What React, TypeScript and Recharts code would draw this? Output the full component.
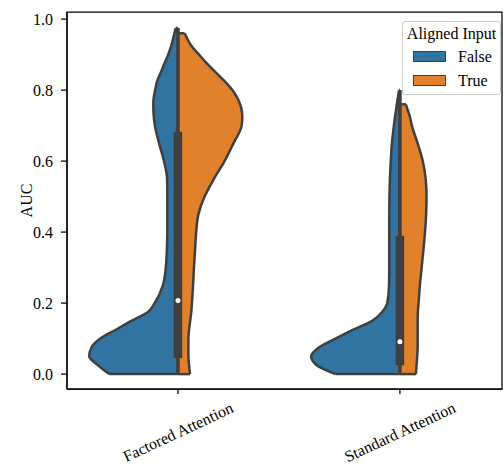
import {
  Area,
  ComposedChart,
  Legend,
  ReferenceArea,
  ReferenceDot,
  ReferenceLine,
  XAxis,
  YAxis,
} from "recharts";

const SERIF = '"Liberation Serif", "DejaVu Serif", serif';
const BLUE = "#3274a1";
const ORANGE = "#e1812c";
const EDGE = "#3f3f3f";
const FONT_SIZE = 16;

const CATEGORIES = ["Factored Attention", "Standard Attention"];
const GROUPS = ["False", "True"];

const AUC_LEVELS = [
  0, 0.025, 0.05, 0.075, 0.1, 0.125, 0.15, 0.175, 0.2, 0.25, 0.3, 0.35, 0.4, 0.45, 0.5, 0.55,
  0.6, 0.65, 0.7, 0.725, 0.75, 0.76, 0.775, 0.8, 0.825, 0.85, 0.875, 0.9, 0.925, 0.95, 0.96,
  0.975,
];

// half-widths (in category units), null above the top of each half
const FACTORED_FALSE = [
  0.31, 0.36, 0.4, 0.39, 0.35, 0.28, 0.21, 0.135, 0.105, 0.068, 0.055, 0.05, 0.048, 0.048,
  0.048, 0.049, 0.063, 0.085, 0.104, 0.109, 0.111, 0.111, 0.11, 0.103, 0.094, 0.077, 0.061,
  0.044, 0.03, 0.02, 0.016, 0.01,
];
const FACTORED_TRUE = [
  0.054, 0.05, 0.047, 0.047, 0.047, 0.05, 0.055, 0.06, 0.063, 0.068, 0.072, 0.077, 0.082, 0.092,
  0.12, 0.162, 0.21, 0.25, 0.287, 0.29, 0.285, 0.28, 0.27, 0.245, 0.21, 0.17, 0.13, 0.095, 0.06,
  0.038, 0.03, null,
];
const STANDARD_FALSE = [
  0.29, 0.375, 0.4, 0.365, 0.29, 0.21, 0.125, 0.08, 0.057, 0.049, 0.048, 0.048, 0.048, 0.048,
  0.047, 0.045, 0.041, 0.036, 0.027, 0.022, 0.016, 0.014, 0.01, 0.004, null, null, null, null,
  null, null, null, null,
];
const STANDARD_TRUE = [
  0.072, 0.075, 0.078, 0.08, 0.08, 0.08, 0.08, 0.081, 0.084, 0.09, 0.098, 0.106, 0.113, 0.118,
  0.12, 0.116, 0.103, 0.08, 0.054, 0.045, 0.032, 0.027, null, null, null, null, null, null, null,
  null, null, null,
];

// inner box plot per category
const WHISKER_LOW = [0, 0];
const WHISKER_HIGH = [0.975, 0.8];
const Q1 = [0.045, 0.025];
const Q3 = [0.683, 0.39];
const MEDIAN = [0.207, 0.091];

const X_DOMAIN: [number, number] = [-0.5, 1.46];
const Y_DOMAIN: [number, number] = [-0.042, 1.02];
const Y_TICKS = [0, 0.2, 0.4, 0.6, 0.8, 1.0];

const HALVES = [
  { key: "ff", widths: FACTORED_FALSE, center: 0, side: -1, color: BLUE },
  { key: "ft", widths: FACTORED_TRUE, center: 0, side: 1, color: ORANGE },
  { key: "sf", widths: STANDARD_FALSE, center: 1, side: -1, color: BLUE },
  { key: "st", widths: STANDARD_TRUE, center: 1, side: 1, color: ORANGE },
];

const data = AUC_LEVELS.map((auc, i) => {
  const row: Record<string, unknown> = { auc };
  HALVES.forEach((h) => {
    const w = h.widths[i];
    row[h.key] = w == null ? [null, null] : [h.center, h.center + h.side * w];
  });
  return row;
});

function lastIndex(widths: (number | null)[]) {
  let idx = 0;
  widths.forEach((w, i) => {
    if (w != null) idx = i;
  });
  return idx;
}

function CategoryTick(props: any) {
  const { x, y, payload } = props;
  return (
    <g transform={`translate(${x},${y})`}>
      <text
        x={0}
        y={0}
        transform="translate(0,36) rotate(-25)"
        textAnchor="middle"
        dominantBaseline="central"
        fill="#000"
        fontSize={FONT_SIZE}
        fontFamily={SERIF}
      >
        {CATEGORIES[payload.value]}
      </text>
    </g>
  );
}

function LegendBox() {
  const colors = [BLUE, ORANGE];
  return (
    <div
      style={{
        position: "relative",
        width: 99,
        height: 74,
        boxSizing: "border-box",
        border: "1px solid #cccccc",
        borderRadius: 3,
        background: "rgba(255,255,255,0.8)",
        fontFamily: SERIF,
        fontSize: FONT_SIZE,
        color: "#000",
      }}
    >
      <div
        style={{
          position: "absolute",
          top: 3,
          left: 0,
          width: "100%",
          textAlign: "center",
          lineHeight: "18px",
          whiteSpace: "nowrap",
        }}
      >
        Aligned Input
      </div>
      {GROUPS.map((g, i) => (
        <div key={g}>
          <div
            style={{
              position: "absolute",
              left: 10,
              top: 29 + i * 24,
              width: 33,
              height: 11,
              boxSizing: "border-box",
              background: colors[i],
              border: `1px solid ${EDGE}`,
            }}
          />
          <div style={{ position: "absolute", left: 55, top: 26 + i * 24, lineHeight: "18px" }}>{g}</div>
        </div>
      ))}
    </div>
  );
}

export default function App() {
  return (
    <div style={{ position: "absolute", left: 0, top: 0 }}>
      <ComposedChart
        width={503}
        height={466}
        layout="vertical"
        data={data}
        margin={{ top: 12, right: 1, bottom: 0, left: 0 }}
        style={{ fontFamily: SERIF }}
      >
        <XAxis
          type="number"
          domain={X_DOMAIN}
          allowDataOverflow
          ticks={[0, 1]}
          height={77}
          tickSize={5}
          tick={<CategoryTick />}
          axisLine={{ stroke: "#000", strokeWidth: 1.25 }}
          tickLine={{ stroke: "#000", strokeWidth: 1.25 }}
        />
        <YAxis
          type="number"
          dataKey="auc"
          reversed
          domain={Y_DOMAIN}
          allowDataOverflow
          ticks={Y_TICKS}
          width={67}
          tickSize={6}
          tickMargin={8}
          tickFormatter={(v: number) => v.toFixed(1)}
          tick={{ fill: "#000", fontSize: FONT_SIZE, fontFamily: SERIF }}
          axisLine={{ stroke: "#000", strokeWidth: 1.25 }}
          tickLine={{ stroke: "#000", strokeWidth: 1.25 }}
          label={{
            content: (p: any) => {
              const vb = p.viewBox;
              const cx = vb.x + 26;
              const cy = vb.y + vb.height / 2;
              return (
                <text
                  x={cx}
                  y={cy}
                  transform={`rotate(-90, ${cx}, ${cy})`}
                  textAnchor="middle"
                  dominantBaseline="central"
                  fill="#000"
                  fontSize={FONT_SIZE}
                  fontFamily={SERIF}
                >
                  AUC
                </text>
              );
            },
          }}
        />
        <ReferenceArea
          x1={X_DOMAIN[0]}
          x2={X_DOMAIN[1]}
          y1={Y_DOMAIN[0]}
          y2={Y_DOMAIN[1]}
          fill="none"
          stroke="#000"
          strokeWidth={1.25}
        />
        {HALVES.map((h) => (
          <Area
            key={h.key}
            dataKey={h.key}
            type="monotone"
            fill={h.color}
            fillOpacity={1}
            stroke={EDGE}
            strokeWidth={2.5}
            isAnimationActive={false}
            activeDot={false}
            dot={false}
          />
        ))}
        {HALVES.map((h) => {
          const top = lastIndex(h.widths);
          return [
            <ReferenceLine
              key={`${h.key}-bottom`}
              segment={[
                { x: h.center, y: AUC_LEVELS[0] },
                { x: h.center + h.side * (h.widths[0] as number), y: AUC_LEVELS[0] },
              ]}
              stroke={EDGE}
              strokeWidth={2.5}
            />,
            <ReferenceLine
              key={`${h.key}-top`}
              segment={[
                { x: h.center, y: AUC_LEVELS[top] },
                { x: h.center + h.side * (h.widths[top] as number), y: AUC_LEVELS[top] },
              ]}
              stroke={EDGE}
              strokeWidth={2.5}
            />,
          ];
        })}
        {CATEGORIES.map((c, i) => (
          <ReferenceLine
            key={`${c}-whisker`}
            segment={[
              { x: i, y: WHISKER_LOW[i] },
              { x: i, y: WHISKER_HIGH[i] },
            ]}
            stroke={EDGE}
            strokeWidth={3.5}
          />
        ))}
        {CATEGORIES.map((c, i) => (
          <ReferenceLine
            key={`${c}-box`}
            segment={[
              { x: i, y: Q1[i] },
              { x: i, y: Q3[i] },
            ]}
            stroke={EDGE}
            strokeWidth={8.5}
          />
        ))}
        {CATEGORIES.map((c, i) => (
          <ReferenceDot key={`${c}-median`} x={i} y={MEDIAN[i]} r={2.5} fill="#fff" stroke="none" />
        ))}
        <Legend
          layout="vertical"
          align="center"
          verticalAlign="middle"
          content={<LegendBox />}
          wrapperStyle={{ position: "absolute", left: 402, top: 21, width: 99 }}
        />
      </ComposedChart>
    </div>
  );
}
